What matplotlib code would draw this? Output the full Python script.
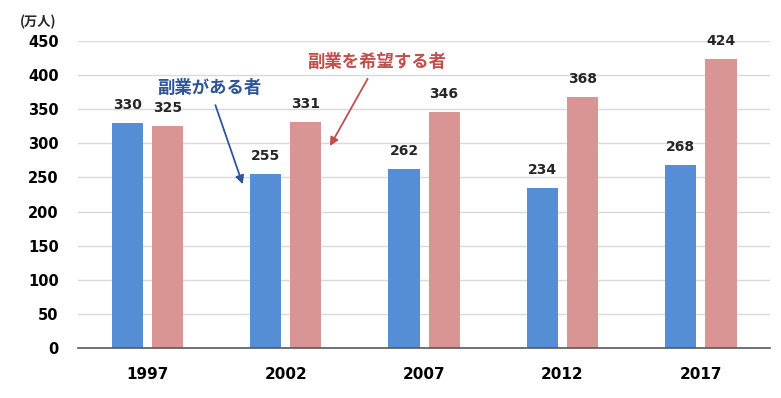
import matplotlib
matplotlib.use("Agg")
import matplotlib.pyplot as plt
import numpy as np

plt.rcParams['font.family'] = ['Noto Sans CJK JP', 'DejaVu Sans']

years = ["1997", "2002", "2007", "2012", "2017"]
side_job = [330, 255, 262, 234, 268]
want_side_job = [325, 331, 346, 368, 424]
yticks = [0, 50, 100, 150, 200, 250, 300, 350, 400, 450]

blue = "#558ED5"
pink = "#D99594"

fig = plt.figure(figsize=(7.81, 3.98), dpi=100)
ax = fig.add_axes([0.0999, 0.1256, 0.8861, 0.7714])

x = np.arange(len(years))
w = 0.225
off = 0.145
b1 = ax.bar(x - off, side_job, w, color=blue, zorder=3)
b2 = ax.bar(x + off, want_side_job, w, color=pink, zorder=3)

for rect, v in zip(b1, side_job):
    ax.annotate(str(v), (rect.get_x() + rect.get_width() / 2, v), xytext=(0, 8),
                textcoords="offset points", ha="center", va="bottom",
                fontsize=10, fontweight="bold", color="#262626", family="DejaVu Sans")
for rect, v in zip(b2, want_side_job):
    ax.annotate(str(v), (rect.get_x() + rect.get_width() / 2, v), xytext=(0, 8),
                textcoords="offset points", ha="center", va="bottom",
                fontsize=10, fontweight="bold", color="#262626", family="DejaVu Sans")

ax.set_xlim(-0.5, len(years) - 0.5)
ax.set_ylim(0, 450)
ax.set_yticks(yticks)
ax.set_yticklabels([str(t) for t in yticks], fontsize=10.5, fontweight="bold", family="DejaVu Sans")
ax.set_xticks(x)
ax.set_xticklabels(years, fontsize=11, fontweight="bold", family="DejaVu Sans")
ax.tick_params(axis="y", length=0, pad=14)
ax.tick_params(axis="x", length=0, pad=14)
ax.grid(axis="y", color="#D9D9D9", linewidth=1, zorder=0)
for s in ["top", "right", "left"]:
    ax.spines[s].set_visible(False)
ax.spines["bottom"].set_color("#595959")
ax.spines["bottom"].set_linewidth(1.2)
ax.spines["bottom"].set_zorder(4)

fig.text(20 / 781, 1 - 22 / 398, "(万人)", fontsize=9.5, fontweight="bold", ha="left", va="center", color="#262626")

# annotations
ax.annotate("副業がある者", xy=(0.69, 240), xytext=(0.45, 381),
            ha="center", va="center", fontsize=12.5, fontweight="bold", color="#2F5597",
            arrowprops=dict(arrowstyle="-|>", color="#2F5597", lw=1.3, shrinkA=4, shrinkB=0))
ax.annotate("副業を希望する者", xy=(1.32, 296), xytext=(1.66, 419),
            ha="center", va="center", fontsize=12.5, fontweight="bold", color="#C0504D",
            arrowprops=dict(arrowstyle="-|>", color="#C0504D", lw=1.3, shrinkA=4, shrinkB=0))

fig.savefig("out.png", dpi=100)
